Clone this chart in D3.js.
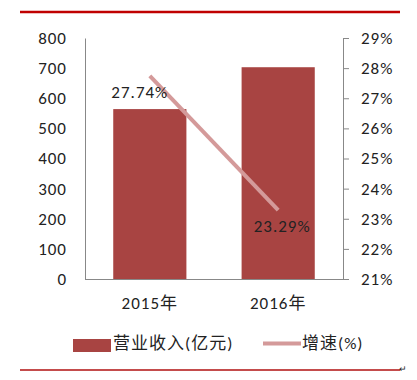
<!DOCTYPE html>
<html><head><meta charset="utf-8">
<script src="https://cdn.jsdelivr.net/npm/d3@7/dist/d3.min.js"></script>
<style>body{margin:0;background:#fff}svg{display:block}text{font-family:Carlito,Calibri,"Liberation Sans","Noto Sans CJK SC",sans-serif;fill:#222;letter-spacing:1px}</style>
</head><body>
<script>
const categories = ["2015年", "2016年"];
const revenue = [564, 703];
const growth = [27.74, 23.29];
const leftTicks = [0, 100, 200, 300, 400, 500, 600, 700, 800];
const rightTicks = [21, 22, 23, 24, 25, 26, 27, 28, 29];
const legendLabels = ["营业收入(亿元)", "增速(%)"];

(function () {
const W = 417, H = 380;
const svg = d3.select("body").append("svg").attr("width", W).attr("height", H);
const fs = 17;
const pl = 85, pr = 343, pt = 38, pb = 279;

const x = d3.scaleBand().domain(categories).range([pl, pr]).paddingInner(0.43).paddingOuter(0.22);
const yL = d3.scaleLinear().domain([0, 800]).range([pb, pt]);
const yR = d3.scaleLinear().domain([21, 29]).range([pb, pt]);

svg.append("line").attr("x1", 20).attr("x2", 400).attr("y1", 12).attr("y2", 12).attr("stroke", "#c00000").attr("stroke-width", 2.5);
svg.append("line").attr("x1", 20).attr("x2", 400).attr("y1", 370).attr("y2", 370).attr("stroke", "#b01010").attr("stroke-width", 1.5);

svg.selectAll("rect.bar").data(revenue).enter().append("rect")
  .attr("x", (d, i) => x(categories[i])).attr("width", x.bandwidth())
  .attr("y", d => yL(d)).attr("height", d => pb - yL(d)).attr("fill", "#a84442");

const gL = svg.append("g").attr("transform", `translate(${pl},0)`)
  .call(d3.axisLeft(yL).tickValues(leftTicks).tickSize(0).tickPadding(18).tickFormat(d3.format("d")));
gL.attr("font-family", null);
gL.select(".domain").attr("stroke", "#888");
gL.selectAll("text").attr("font-size", fs).attr("fill", "#222");

const gR = svg.append("g").attr("transform", `translate(${pr},0)`)
  .call(d3.axisRight(yR).tickValues(rightTicks).tickSize(6).tickPadding(12).tickFormat(d => d + "%"));
gR.attr("font-family", null);
gR.select(".domain").attr("stroke", "#888");
gR.selectAll(".tick line").attr("stroke", "#888");
gR.selectAll("text").attr("font-size", fs).attr("fill", "#222");

svg.append("line").attr("x1", pl).attr("x2", pr + 6).attr("y1", pb + 0.5).attr("y2", pb + 0.5).attr("stroke", "#888");
svg.selectAll("text.cat").data(categories).enter().append("text")
  .attr("x", d => x(d) + x.bandwidth() / 2).attr("y", 309).attr("text-anchor", "middle")
  .attr("font-size", fs).text(d => d);

const cx = (i) => x(categories[i]) + x.bandwidth() / 2;
svg.append("path").datum(growth)
  .attr("d", d3.line().x((d, i) => cx(i)).y(d => yR(d)))
  .attr("fill", "none").attr("stroke", "#d49a9a").attr("stroke-width", 4);

svg.append("text").attr("x", cx(0) - 10).attr("y", yR(growth[0]) + 22).attr("text-anchor", "middle").attr("font-size", fs).text(growth[0].toFixed(2) + "%");
svg.append("text").attr("x", cx(1) + 4).attr("y", yR(growth[1]) + 22).attr("text-anchor", "middle").attr("font-size", fs).text(growth[1].toFixed(2) + "%");

svg.append("rect").attr("x", 73).attr("y", 339).attr("width", 38).attr("height", 13).attr("fill", "#a84442");
svg.append("text").attr("x", 113).attr("y", 349).attr("font-size", fs).text(legendLabels[0]);
svg.append("line").attr("x1", 263).attr("x2", 301).attr("y1", 343.5).attr("y2", 343.5).attr("stroke", "#d49a9a").attr("stroke-width", 4);
svg.append("text").attr("x", 302).attr("y", 349).attr("font-size", fs).text(legendLabels[1]);

svg.append("text").attr("x", 399).attr("y", 372).attr("font-size", 9).attr("fill", "#777").text("↵");
})();
</script>
</body></html>
